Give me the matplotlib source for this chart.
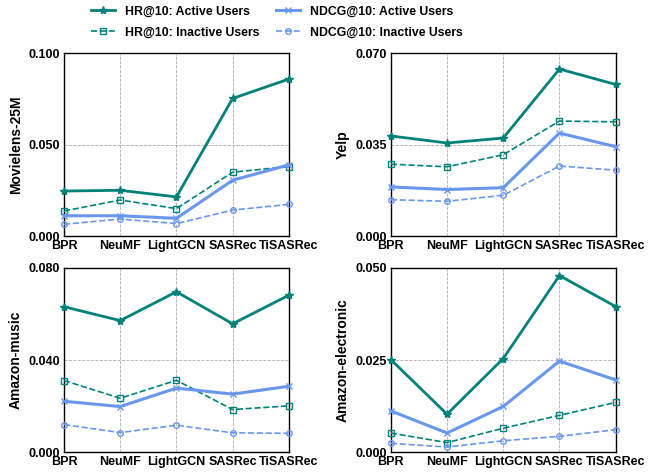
import numpy as np
import matplotlib
matplotlib.use("Agg")
import matplotlib.pyplot as plt

plt.rcParams.update({
    "font.family": ["Liberation Sans", "DejaVu Sans"],
    "font.weight": "bold",
    "font.size": 9,
})

models = ["BPR", "NeuMF", "LightGCN", "SASRec", "TiSASRec"]
datasets = ["Movielens-25M", "Yelp", "Amazon-music", "Amazon-electronic"]

# per dataset: HR active, HR inactive, NDCG active, NDCG inactive
hr_active = [
    [0.0246, 0.0250, 0.0214, 0.0752, 0.0858],
    [0.0383, 0.0356, 0.0375, 0.0639, 0.0580],
    [0.0631, 0.0571, 0.0696, 0.0557, 0.0681],
    [0.0251, 0.0103, 0.0254, 0.0479, 0.0395],
]
hr_inactive = [
    [0.0137, 0.0197, 0.0150, 0.0349, 0.0380],
    [0.0275, 0.0265, 0.0311, 0.0440, 0.0437],
    [0.0311, 0.0234, 0.0312, 0.0185, 0.0201],
    [0.0052, 0.0026, 0.0065, 0.0100, 0.0135],
]
ndcg_active = [
    [0.0111, 0.0111, 0.0097, 0.0305, 0.0389],
    [0.0188, 0.0178, 0.0185, 0.0394, 0.0342],
    [0.0221, 0.0198, 0.0278, 0.0252, 0.0286],
    [0.0112, 0.0052, 0.0124, 0.0247, 0.0196],
]
ndcg_inactive = [
    [0.0064, 0.0093, 0.0068, 0.0142, 0.0173],
    [0.0139, 0.0133, 0.0156, 0.0268, 0.0252],
    [0.0120, 0.0085, 0.0117, 0.0084, 0.0082],
    [0.0024, 0.0014, 0.0031, 0.0043, 0.0061],
]
y_max = [0.100, 0.070, 0.080, 0.050]

TEAL = "#00827a"
BLUE = "#6a97ee"

fig = plt.figure(figsize=(6.67, 4.74), dpi=100)
boxes = [
    [0.096, 0.502, 0.337, 0.386],
    [0.586, 0.502, 0.337, 0.386],
    [0.096, 0.046, 0.337, 0.389],
    [0.586, 0.046, 0.337, 0.389],
]

x = np.arange(len(models))
handles = None
for i, box in enumerate(boxes):
    ax = fig.add_axes(box)
    h1, = ax.plot(x, hr_active[i], color=TEAL, lw=2, marker="*", ms=6,
                  label="HR@10: Active Users", clip_on=False, zorder=4)
    h2, = ax.plot(x, hr_inactive[i], color=TEAL, lw=1.2, ls="--", marker="s", ms=4,
                  mfc="none", label="HR@10: Inactive Users", clip_on=False, zorder=3)
    h3, = ax.plot(x, ndcg_active[i], color=BLUE, lw=2.2, marker="x", ms=5,
                  label="NDCG@10: Active Users", clip_on=False, zorder=3)
    h4, = ax.plot(x, ndcg_inactive[i], color=BLUE, lw=1.2, ls="--", marker="o", ms=4,
                  mfc="none", label="NDCG@10: Inactive Users", clip_on=False, zorder=3)
    handles = [h1, h2, h3, h4]
    ax.set_xlim(0, 4)
    ax.set_ylim(0, y_max[i])
    ax.set_yticks([0, y_max[i] / 2, y_max[i]])
    ax.set_yticklabels([f"{v:.3f}" for v in [0, y_max[i] / 2, y_max[i]]])
    ax.set_xticks(x)
    ax.set_xticklabels(models)
    ax.tick_params(axis="y", length=0, pad=3)
    ax.tick_params(axis="x", length=0, pad=2.5)
    ax.grid(True, ls="--", color="#999999", lw=0.6, alpha=0.8)
    ax.set_ylabel(datasets[i], fontsize=10, fontweight="bold", labelpad=4)
    for s in ax.spines.values():
        s.set_linewidth(1.0)

fig.legend(handles=handles, labels=[h.get_label() for h in handles],
           loc="upper left", bbox_to_anchor=(0.12, 1.012), ncol=2, frameon=False,
           columnspacing=1.3, handlelength=2.0, handletextpad=0.8, labelspacing=0.75,
           prop={"weight": "bold", "size": 8.8})

fig.savefig("out.png", dpi=100)
